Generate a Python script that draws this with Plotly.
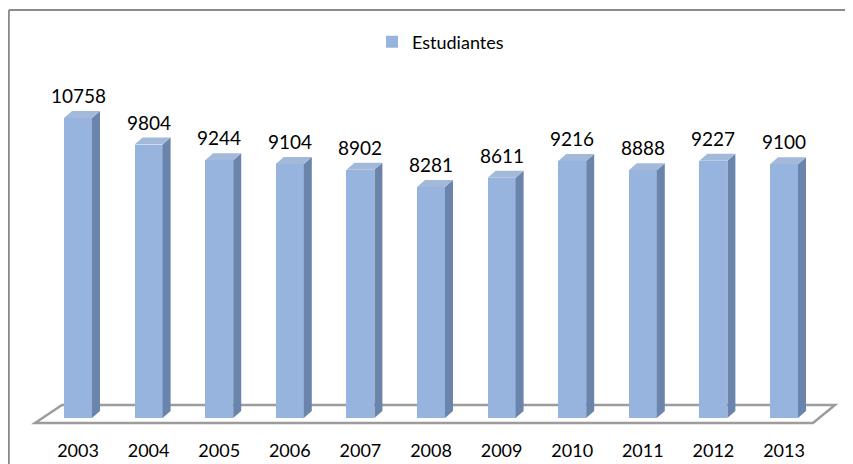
import plotly.graph_objects as go

# data
years = ["2003", "2004", "2005", "2006", "2007", "2008", "2009", "2010", "2011", "2012", "2013"]
estudiantes = [10758, 9804, 9244, 9104, 8902, 8281, 8611, 9216, 8888, 9227, 9100]

FRONT = "#96B4DE"
SIDE = "#6B84AB"
TOP = "#A3B9D9"
FONT = "Lato, 'Open Sans', sans-serif"

# the page puts the figure 8px in from the top-left corner,
# so all pixel positions below are measured in the figure's own frame
OFF = 8
W, H = 853 - OFF, 464 - OFF
PX_PER_CAT = 70.6
X0_PX = 78 - OFF          # centre of first bar
BASE_PX = 418 - OFF       # y pixel of value 0
PX_PER_UNIT = 300 / 10758
PLOT_BOTTOM = 430

def xv(px):
    return (px - X0_PX) / PX_PER_CAT

def yv(px):
    return (BASE_PX - px) / PX_PER_UNIT

x = list(range(len(years)))
bw = 28 / PX_PER_CAT
dx = 8 / PX_PER_CAT
dy = 7 / PX_PER_UNIT

fig = go.Figure()
fig.add_trace(go.Bar(x=x, y=estudiantes, width=bw, name="Estudiantes",
                     marker=dict(color=FRONT, line=dict(width=0))))

shapes = []
# floor
shapes.append(dict(type="path", layer="below", xref="x", yref="y",
                   path=f"M {xv(35-OFF)},{yv(423-OFF)} L {xv(62-OFF)},{yv(405-OFF)} "
                        f"L {xv(835-OFF)},{yv(405-OFF)} L {xv(813-OFF)},{yv(423-OFF)} Z",
                   line=dict(color="#9C9C9C", width=2.5), fillcolor="white"))
for i, v in zip(x, estudiantes):
    r = i + bw / 2
    l = i - bw / 2
    shapes.append(dict(type="path", xref="x", yref="y",
                       path=f"M {r},0 L {r+dx},{dy} L {r+dx},{v+dy} L {r},{v} Z",
                       fillcolor=SIDE, line=dict(width=0)))
    shapes.append(dict(type="path", xref="x", yref="y",
                       path=f"M {l},{v} L {l+dx},{v+dy} L {r+dx},{v+dy} L {r},{v} Z",
                       fillcolor=TOP, line=dict(width=0)))
# outer frame (left and top edges only are in view)
top_y = 1 - (10 - OFF) / PLOT_BOTTOM
shapes.append(dict(type="line", xref="paper", yref="paper",
                   x0=0.001, x1=0.001, y0=-0.1, y1=top_y,
                   line=dict(color="#8C8C8C", width=2)))
shapes.append(dict(type="line", xref="paper", yref="paper",
                   x0=0.001, x1=1, y0=top_y, y1=top_y,
                   line=dict(color="#8C8C8C", width=2)))

annotations = [dict(x=i, y=v, text=str(v), showarrow=False, yanchor="bottom",
                    yshift=9, font=dict(size=19, color="black", family=FONT))
               for i, v in zip(x, estudiantes)]

fig.update_layout(
    width=W, height=H,
    margin=dict(l=0, r=0, t=0, b=H - PLOT_BOTTOM),
    plot_bgcolor="white", paper_bgcolor="white",
    bargap=0,
    shapes=shapes,
    annotations=annotations,
    showlegend=True,
    legend=dict(orientation="h", x=364 / W, xanchor="left",
                y=1 - (42 - OFF) / PLOT_BOTTOM, yanchor="middle",
                font=dict(size=18, color="black", family=FONT), bgcolor="rgba(0,0,0,0)"),
    xaxis=dict(range=[xv(0), xv(W)], tickvals=x, ticktext=years, showgrid=False,
               zeroline=False, showline=False, ticks="",
               tickfont=dict(size=18, color="black", family=FONT)),
    yaxis=dict(range=[yv(PLOT_BOTTOM), yv(0)], visible=False, showgrid=False),
)

fig.write_html("out.html")
